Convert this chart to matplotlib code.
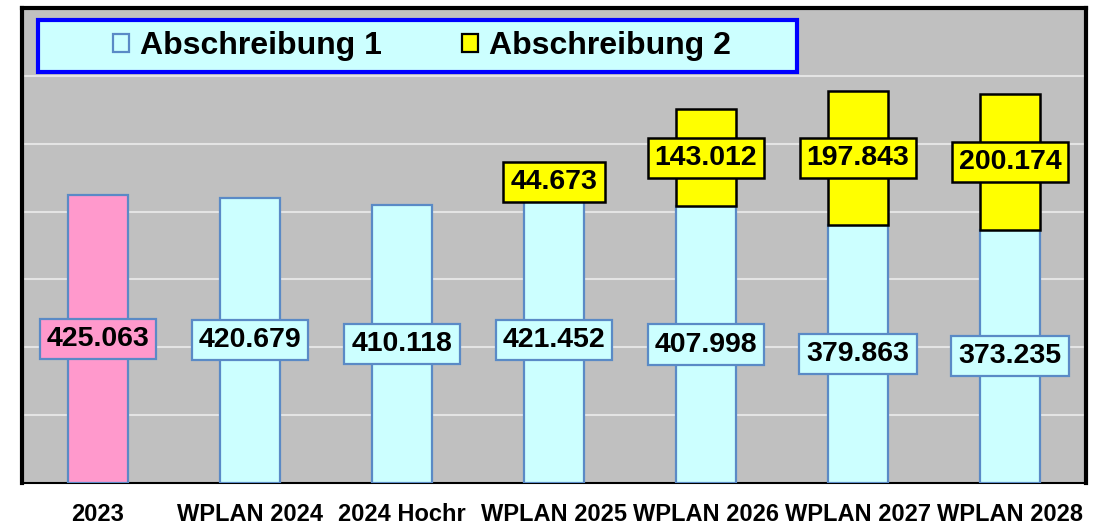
import matplotlib.pyplot as plt
import numpy as np
from matplotlib.patches import Patch, Rectangle

plt.rcParams['font.family'] = ['Liberation Sans', 'DejaVu Sans']

categories = ['2023', 'WPLAN 2024', '2024 Hochr', 'WPLAN 2025', 'WPLAN 2026', 'WPLAN 2027', 'WPLAN 2028']
abschreibung_1 = [425063, 420679, 410118, 421452, 407998, 379863, 373235]
abschreibung_2 = [0, 0, 0, 44673, 143012, 197843, 200174]
legend_labels = ['Abschreibung 1', 'Abschreibung 2']


def fmt(v):
    return f'{v / 1000:.3f}'


fig = plt.figure(figsize=(10.96, 5.24), dpi=100)
ax = fig.add_axes([22 / 1096, 1 - 483 / 524, 1064 / 1096, 475 / 524])
ax.set_facecolor('#c0c0c0')

x = np.arange(len(categories))
s1 = np.array(abschreibung_1)
s2 = np.array(abschreibung_2)
face1 = ['#ff99cc'] + ['#ccffff'] * (len(x) - 1)

ax.bar(x, s1, width=0.4, color=face1, edgecolor='#5a8ac6', linewidth=1.6, zorder=3)
ax.bar(x[s2 > 0], s2[s2 > 0], bottom=s1[s2 > 0], width=0.4, color='#ffff00',
       edgecolor='black', linewidth=1.8, zorder=3)

for i in x:
    ax.text(i, s1[i] / 2, fmt(s1[i]), ha='center', va='center', fontsize=20.5,
            fontweight='bold', zorder=5,
            bbox=dict(boxstyle='square,pad=0.25', fc=face1[i], ec='#5a8ac6', lw=1.6))
    if s2[i] > 0:
        ax.text(i, s1[i] + s2[i] / 2, fmt(s2[i]), ha='center', va='center', fontsize=20.5,
                fontweight='bold', zorder=5,
                bbox=dict(boxstyle='square,pad=0.25', fc='#ffff00', ec='black', lw=1.8))

ax.set_xlim(-0.5, len(x) - 0.5)
ax.set_ylim(0, 700000)
ax.set_yticks(np.arange(100000, 700000, 100000))
ax.yaxis.grid(True, color='#e4e4e4', linewidth=1.5, zorder=1)
ax.set_axisbelow(True)
ax.tick_params(axis='y', left=False, labelleft=False)
ax.tick_params(axis='x', bottom=False, pad=11)
ax.set_xticks(x)
ax.set_xticklabels(categories, fontsize=17, fontweight='bold')

for side in ['left', 'top', 'right']:
    ax.spines[side].set_color('black')
    ax.spines[side].set_linewidth(3)
ax.spines['bottom'].set_color('black')
ax.spines['bottom'].set_linewidth(1.5)

# legend box
fig.patches.append(Rectangle((38 / 1096, 1 - 72 / 524), 759 / 1096, 52 / 524,
                             transform=fig.transFigure, fc='#ccffff', ec='#0000ff',
                             lw=3, zorder=10))
handles = [Patch(fc='#ccffff', ec='#5a8ac6', lw=1.6),
           Patch(fc='#ffff00', ec='black', lw=1.6)]
leg = fig.legend(handles, legend_labels, loc='center', bbox_to_anchor=(422 / 1096, 1 - 46 / 524),
                 ncol=2, frameon=False, prop={'size': 23, 'weight': 'bold'},
                 handlelength=0.5, handleheight=0.5, handletextpad=0.35, columnspacing=2.5)
leg.set_zorder(11)

fig.savefig('out.png', dpi=100)
